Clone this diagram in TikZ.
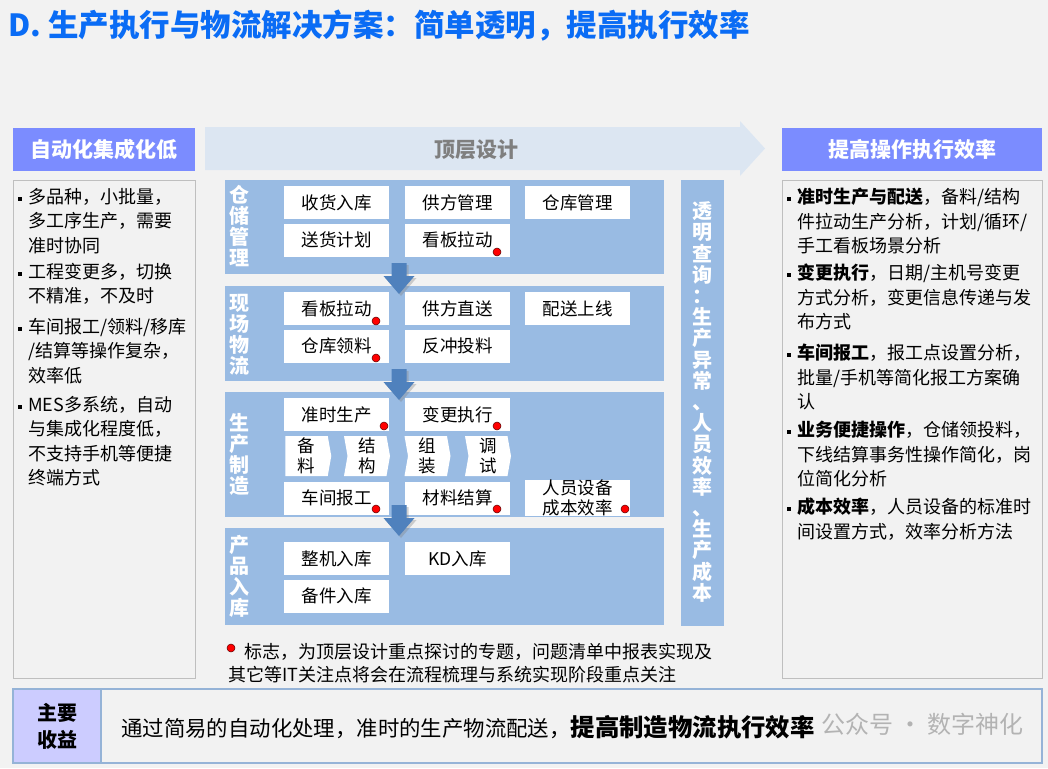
\documentclass[tikz,border=0pt]{standalone}
\usepackage{fontspec}
\setmainfont{Noto Sans CJK SC}
\usetikzlibrary{shapes.symbols,shadows}
\definecolor{bg}{HTML}{F2F2F2}
\definecolor{ttl}{HTML}{0A6CF5}
\definecolor{hdr}{HTML}{7B8CFF}
\definecolor{pnl}{HTML}{99BBE3}
\definecolor{arr}{HTML}{4F81BD}
\definecolor{topar}{HTML}{DCE6F2}
\definecolor{gbrd}{HTML}{BFBFBF}
\definecolor{lav}{HTML}{CCCCFF}
\definecolor{bbrd}{HTML}{95B3D7}
\definecolor{tgray}{HTML}{7F7F7F}
\newcommand{\fs}[2]{\fontsize{#1}{#2}\selectfont}
\newcommand{\dnarrow}[3]{%
  \fill[arr,drop shadow={opacity=0.35,shadow xshift=2pt,shadow yshift=-2pt}]
    (#2-7.5,#3) -- (#2+7.5,#3) -- (#2+7.5,#3+13) -- (#2+15.5,#3+13) --
    (#2,#3+31) -- (#2-15.5,#3+13) -- (#2-7.5,#3+13) -- cycle;
  \coordinate (#1) at (#2,#3+31);}
\begin{document}
\begin{tikzpicture}[x=1pt,y=-1pt,
  hdrbox/.style={fill=hdr,text=white,font=\fs{21}{24}\bfseries,minimum height=43,inner sep=0},
  sidepanel/.style={draw=gbrd,fill=bg,line width=0.8pt,inner sep=0},
  txt/.style={anchor=north west,align=left,inner sep=0,font=\fs{18}{24.5}},
  bul/.style={fill=black,minimum size=4,inner sep=0},
  panel/.style={fill=pnl,inner sep=0},
  wbox/.style={fill=white,minimum width=105,minimum height=33,inner sep=0,font=\fs{17.5}{20}},
  chev/.style={signal,signal to=east,signal from=west,signal pointer angle=160,fill=white,
    minimum height=40,minimum width=46,inner sep=0,align=center,font=\fs{17.5}{20.5}},
  plabel/.style={text=white,align=center,inner sep=0,font=\fs{20}{21}\bfseries},
  rdot/.style={circle,fill=red,draw=red!35!black,line width=0.5pt,minimum size=8,inner sep=0}]
\useasboundingbox (0,0) rectangle (1048,768);
\fill[bg] (0,0) rectangle (1048,768);

% title
\node[anchor=west,text=ttl,font=\fs{30.5}{32}\bfseries,inner sep=0] (title) at (8,26)
  {D. 生产执行与物流解决方案：简单透明，提高执行效率};

% headers
\node[hdrbox,minimum width=182] (lhdr) at (104,149.5) {自动化集成化低};
\node[hdrbox,minimum width=260] (rhdr) at (912,149.5) {提高操作执行效率};
\fill[topar] (205,127) -- (740,127) -- (740,121) -- (765,148.5) -- (740,176) -- (740,170) -- (205,170) -- cycle;
\node[text=tgray,font=\fs{21}{24}\bfseries,inner sep=0] (top) at (476,150) {顶层设计};

% side panels
\node[sidepanel,minimum width=182,minimum height=498] (lpan) at (104,429) {};
\node[sidepanel,minimum width=260,minimum height=498] (rpan) at (912,429) {};

% left texts
\node[bul] (lb1) at (20,199) {};
\node[txt] (lt1) at (28,188) {多品种，小批量，\\多工序生产，需要\\准时协同};
\node[bul] (lb2) at (20,274) {};
\node[txt] (lt2) at (28,263) {工程变更多，切换\\不精准，不及时};
\node[bul] (lb3) at (20,329) {};
\node[txt] (lt3) at (28,318) {车间报工/领料/移库\\/结算等操作复杂，\\效率低};
\node[bul] (lb4) at (20,407) {};
\node[txt] (lt4) at (28,396) {MES多系统，自动\\与集成化程度低，\\不支持手机等便捷\\终端方式};

% right texts
\node[bul] (rb1) at (789,199) {};
\node[txt] (rt1) at (797,188) {\textbf{准时生产与配送}，备料/结构\\件拉动生产分析，计划/循环/\\手工看板场景分析};
\node[bul] (rb2) at (789,275) {};
\node[txt] (rt2) at (797,264) {\textbf{变更执行}，日期/主机号变更\\方式分析，变更信息传递与发\\布方式};
\node[bul] (rb3) at (789,355) {};
\node[txt] (rt3) at (797,344) {\textbf{车间报工}，报工点设置分析，\\批量/手机等简化报工方案确\\认};
\node[bul] (rb4) at (789,432) {};
\node[txt] (rt4) at (797,421) {\textbf{业务便捷操作}，仓储领投料，\\下线结算事务性操作简化，岗\\位简化分析};
\node[bul] (rb5) at (789,509) {};
\node[txt] (rt5) at (797,498) {\textbf{成本效率}，人员设备的标准时\\间设置方式，效率分析方法};

% middle panels
\node[panel,minimum width=439,minimum height=94] (p1) at (444.5,227) {};
\node[panel,minimum width=439,minimum height=95] (p2) at (444.5,333.5) {};
\node[panel,minimum width=439,minimum height=125] (p3) at (444.5,454.5) {};
\node[panel,minimum width=439,minimum height=97] (p4) at (444.5,576.5) {};
\node[panel,minimum width=43,minimum height=446] (pv) at (702.5,403) {};

\node[plabel] (l1) at (239,226.5) {仓\\储\\管\\理};
\node[plabel] (l2) at (239,334.5) {现\\场\\物\\流};
\node[plabel] (l3) at (239,454) {生\\产\\制\\造};
\node[plabel] (l4) at (239,576.5) {产\\品\\入\\库};
\node[plabel,font=\fs{20}{21.2}\bfseries] (lv) at (702.5,402)
  {透\\明\\查\\询\\：\\生\\产\\异\\常\\、\\人\\员\\效\\率\\、\\生\\产\\成\\本};

% boxes panel 1
\node[wbox] (b11) at (336.5,202.5) {收货入库};
\node[wbox] (b12) at (457.5,202.5) {供方管理};
\node[wbox] (b13) at (577.5,202.5) {仓库管理};
\node[wbox] (b14) at (336.5,240) {送货计划};
\node[wbox] (b15) at (457.5,240) {看板拉动};
% panel 2
\node[wbox] (b21) at (336.5,308.5) {看板拉动};
\node[wbox] (b22) at (457.5,308.5) {供方直送};
\node[wbox] (b23) at (577.5,308.5) {配送上线};
\node[wbox] (b24) at (336.5,346) {仓库领料};
\node[wbox] (b25) at (457.5,346) {反冲投料};
% panel 3
\node[wbox] (b31) at (336.5,414.5) {准时生产};
\node[wbox] (b32) at (457.5,414.5) {变更执行};
\node[chev,signal from=nowhere] (c1) at (306.5,456) {备\\料};
\node[chev] (c2) at (367,456) {结\\构};
\node[chev] (c3) at (427.5,456) {组\\装};
\node[chev] (c4) at (488,456) {调\\试};
\node[wbox] (b33) at (336.5,498) {车间报工};
\node[wbox] (b34) at (457.5,498) {材料结算};
\node[wbox,align=center] (b35) at (577.5,498) {人员设备\\成本效率};
% panel 4
\node[wbox] (b41) at (336.5,558.5) {整机入库};
\node[wbox] (b42) at (457.5,558.5) {KD入库};
\node[wbox] (b43) at (336.5,596) {备件入库};

% red dots
\node[rdot] (d1) at (497,252) {};
\node[rdot] (d2) at (376,321) {};
\node[rdot] (d3) at (376,358) {};
\node[rdot] (d4) at (384,426) {};
\node[rdot] (d5) at (497,426) {};
\node[rdot] (d6) at (376,509) {};
\node[rdot] (d7) at (497,509) {};
\node[rdot] (d8) at (625,509) {};

% down arrows
\dnarrow{a1}{399}{263}
\dnarrow{a2}{399}{369}
\dnarrow{a3}{399}{505}

% note
\node[rdot] (nd) at (231,648) {};
\node[anchor=west,inner sep=0,font=\fs{18}{20}] (n1) at (244,652) {标志，为顶层设计重点探讨的专题，问题清单中报表实现及};
\node[anchor=west,inner sep=0,font=\fs{18}{20}] (n2) at (228,675) {其它等IT关注点将会在流程梳理与系统实现阶段重点关注};

% bottom bar
\draw[bbrd,line width=1.5pt,fill=bg] (101,689) rectangle (1042,763);
\node[draw=bbrd,line width=1.5pt,fill=lav,minimum width=88,minimum height=74,inner sep=0,
  align=center,font=\fs{20}{27}\bfseries] (gain) at (57,726) {主要\\收益};
\node[anchor=west,inner sep=0] (gtxt) at (121,727)
  {\fs{21.4}{24}通过简易的自动化处理，准时的生产物流配送，\fs{24.4}{26}\bfseries 提高制造物流执行效率};
\node[anchor=west,inner sep=0,text=gray,opacity=0.55,font=\fs{24}{26}] (wm) at (821,724) {公众号 · 数字神化};
\end{tikzpicture}
\end{document}
